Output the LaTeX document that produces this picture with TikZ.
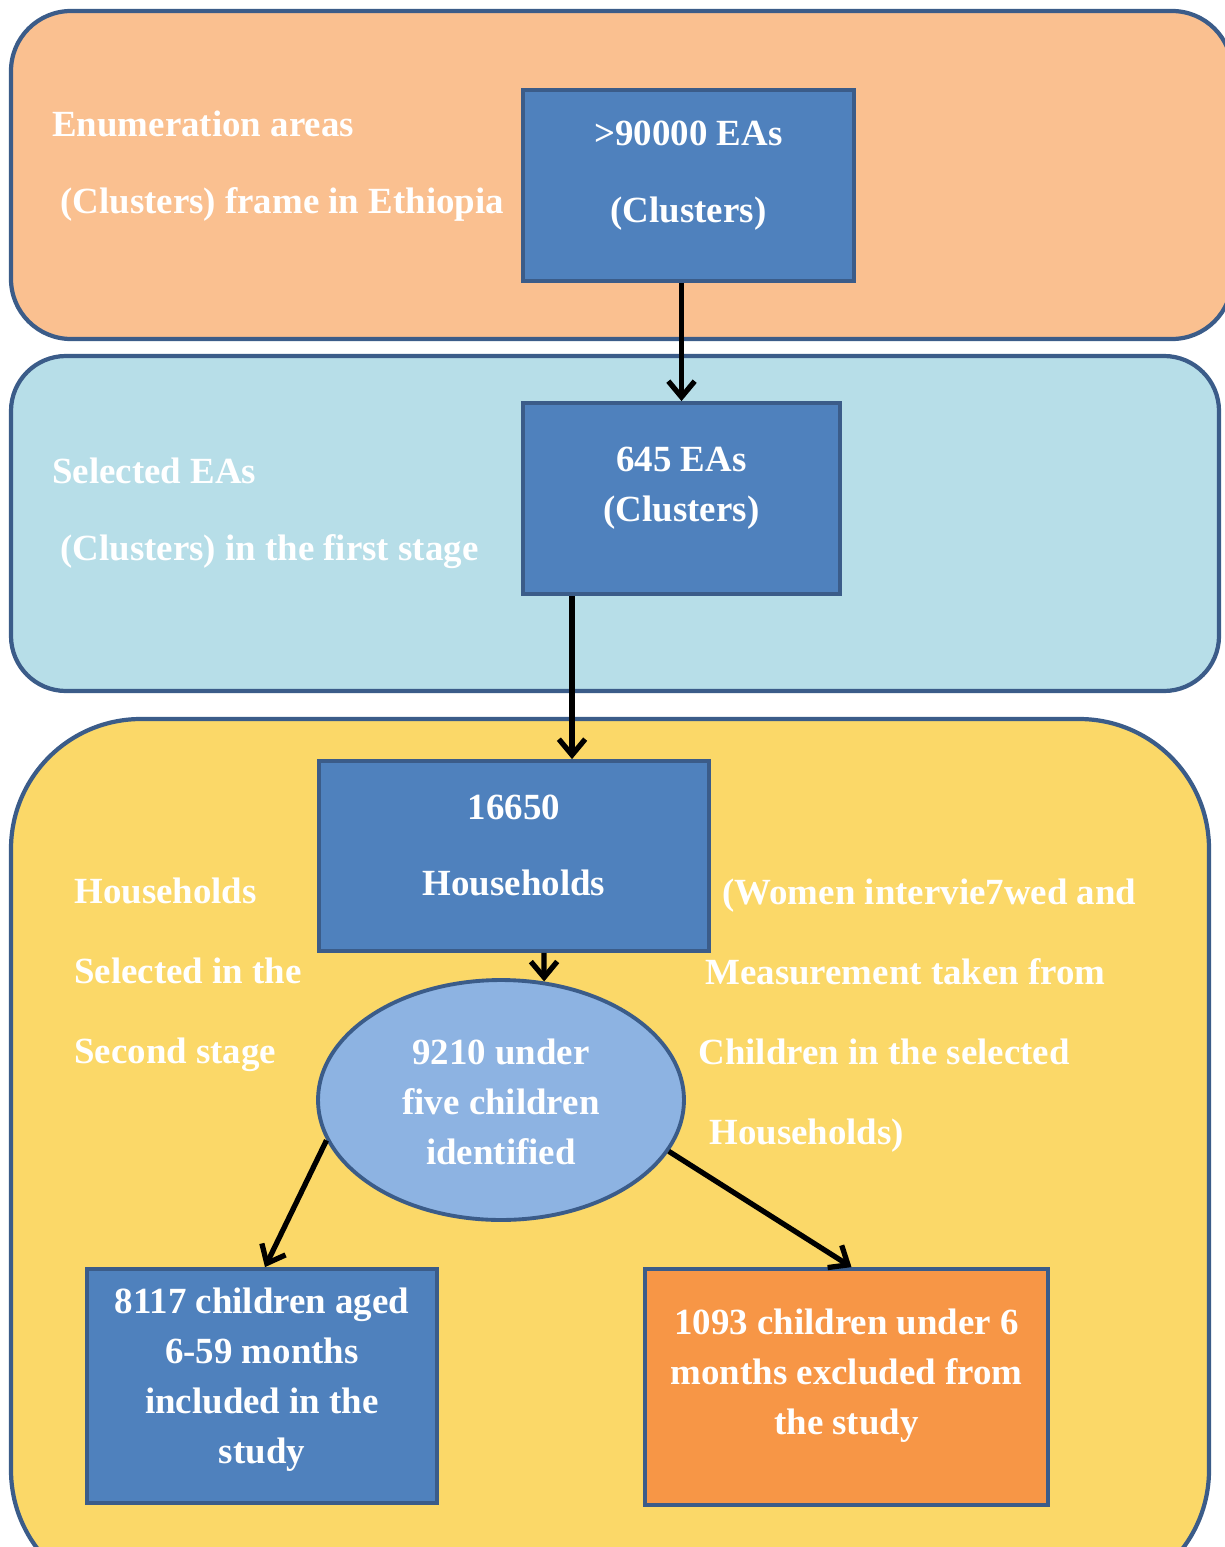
\documentclass[tikz,border=0pt]{standalone}
\usepackage{fontspec}
\setmainfont{Liberation Serif}
\usetikzlibrary{arrows.meta,shapes.geometric}
\definecolor{peach}{HTML}{FAC090}
\definecolor{skyband}{HTML}{B7DEE8}
\definecolor{goldband}{HTML}{FBD868}
\definecolor{edge}{HTML}{3B5C89}
\definecolor{boxblue}{HTML}{4F81BD}
\definecolor{ellblue}{HTML}{8DB3E2}
\definecolor{boxorange}{HTML}{F79646}

\begin{document}
\begin{tikzpicture}[
  x=0.02cm, y=-0.02cm,
  band/.style={draw=edge, line width=2.4pt},
  box/.style={draw=edge, line width=2.2pt, fill=boxblue, inner sep=0pt},
  ovalbox/.style={ellipse, draw=edge, line width=2.2pt, fill=ellblue, inner sep=0pt},
  txt/.style={text=white, inner sep=0pt, align=center,
              font=\bfseries\fontsize{21}{28.4}\selectfont},
  widetxt/.style={txt, font=\bfseries\fontsize{21}{43.7}\selectfont},
  sidetxt/.style={txt, align=left, anchor=west,
                  font=\bfseries\fontsize{21}{45.6}\selectfont},
  arr/.style={-{Straight Barb[length=9pt,width=15pt]}, line width=3pt},
]
\useasboundingbox (0,0) rectangle (1224,1547);

% ---------------- the three stage bands ----------------
\draw[band, fill=peach, rounded corners=1.2cm] (11,11) rectangle (1232,339);
\draw[band, fill=skyband, rounded corners=1.1cm] (11,356) rectangle (1219,691);
\draw[band, fill=goldband, rounded corners=2.6cm] (11,719) rectangle (1209,1600);

% ---------------- stage 1: frame ----------------
\node[sidetxt, font=\bfseries\fontsize{21}{43.7}\selectfont] (frame) at (52,166)
  {Enumeration areas\\\hspace*{0.16cm}(Clusters) frame in Ethiopia};
\node[box, minimum width=6.62cm, minimum height=3.82cm] (A) at (688.5,185.5) {};
\node[widetxt] (Atxt) at (688.5,175.5) {>90000 EAs\\(Clusters)};

% ---------------- stage 2: first stage ----------------
\node[sidetxt, font=\bfseries\fontsize{21}{43.7}\selectfont] (first) at (52,513.5)
  {Selected EAs\\\hspace*{0.16cm}(Clusters) in the first stage};
\node[box, minimum width=6.34cm, minimum height=3.82cm] (B) at (681.5,498.5) {};
\node[txt] (Btxt) at (681.5,488) {645 EAs\\(Clusters)};

\draw[arr] (A.south -| B.north) -- (B.north);

% ---------------- stage 3: households and children ----------------
\node[box, minimum width=7.8cm, minimum height=3.8cm] (C) at (514,856) {};
\node[widetxt] (Ctxt) at (514,845.5) {16650\\Households};
\node[sidetxt] (second) at (74,975)
  {Households\\Selected in the\\Second stage};
\node[sidetxt] (women) at (698,1015.5)
  {\hspace*{0.48cm}(Women intervie7wed and\\\hspace*{0.14cm}Measurement taken from\\Children in the selected\\\hspace*{0.22cm}Households)};

\draw[arr] ([xshift=-2.19cm]B.south) -- ([xshift=-2.19cm]B.south |- C.north);

\node[ovalbox, minimum width=7.32cm, minimum height=4.8cm] (ell) at (501,1100) {};
\node[txt] (elltxt) at (501,1101.5) {9210 under\\five children\\identified};

\draw[arr] ([xshift=0.6cm]C.south) -- (ell.70);

\node[box, minimum width=7.0cm, minimum height=4.68cm] (D) at (262,1386) {};
\node[txt] (Dtxt) at (262,1380) {8117 children aged\\6-59 months\\included in the\\study};
\node[box, fill=boxorange, minimum width=8.06cm, minimum height=4.72cm] (E) at (846.5,1387) {};
\node[txt] (Etxt) at (846.5,1376) {1093 children under 6\\months excluded from\\the study};

\draw[arr] (ell.193) -- ([xshift=0.06cm]D.north);
\draw[arr] (ell.343) -- ([xshift=0.1cm]E.north);

\end{tikzpicture}
\end{document}
